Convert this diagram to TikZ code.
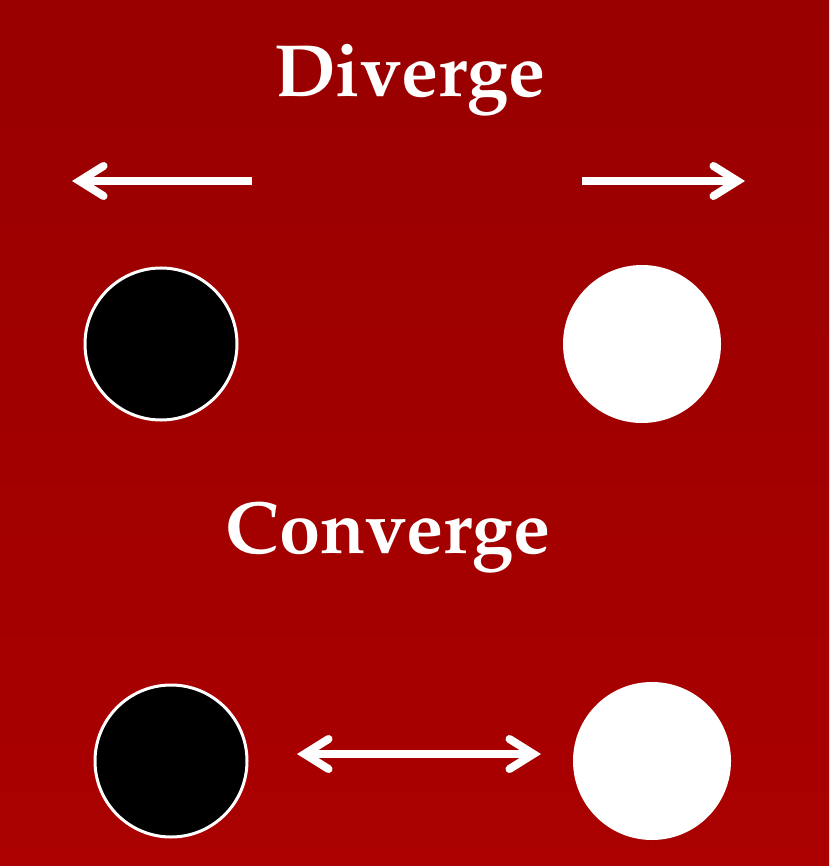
\documentclass[tikz,border=0pt]{standalone}
\usepackage[T1]{fontenc}
\usetikzlibrary{arrows.meta}
\definecolor{bgtop}{HTML}{990000}
\definecolor{bgbot}{HTML}{AA0000}
\tikzset{
  lbl/.style={text=white, font=\fontfamily{ppl}\bfseries\fontsize{74}{82}\selectfont, anchor=base, inner sep=0pt},
  blackdot/.style={circle, fill=black, draw=white, line width=3pt, inner sep=0pt, minimum size=#1},
  whitedot/.style={circle, fill=white, inner sep=0pt, minimum size=#1},
  arr/.style={draw=white, line width=8pt, line cap=butt,
    arrows={-Straight Barb[length=24pt, width=30pt, line cap=round, line join=miter]}},
  darr/.style={draw=white, line width=8pt, line cap=round,
    arrows={Straight Barb[length=24pt, width=30pt, line cap=round, line join=miter]-Straight Barb[length=24pt, width=30pt, line cap=round, line join=miter]}}
}
\begin{document}
\begin{tikzpicture}[x=1pt, y=-1pt]
\useasboundingbox (0,0) rectangle (829,866);
\shade[top color=bgtop, bottom color=bgbot] (0,0) rectangle (829,866);
\node[lbl] (div) at (410,97) {Diverge};
\node[lbl] (conv) at (388,553) {Converge};
\coordinate (l1s) at (252,181);
\coordinate (l1e) at (72,181);
\coordinate (r1s) at (582,181);
\coordinate (r1e) at (745,181);
\draw[arr] (l1s) -- (l1e);
\draw[arr] (r1s) -- (r1e);
\node[blackdot=152pt] (b1) at (161,344) {};
\node[whitedot=158pt] (w1) at (642,344) {};
\node[blackdot=152pt] (b2) at (171,761) {};
\node[whitedot=158pt] (w2) at (652,761) {};
\coordinate (ds) at (297,754);
\coordinate (de) at (541,754);
\draw[darr] (ds) -- (de);
\end{tikzpicture}
\end{document}
